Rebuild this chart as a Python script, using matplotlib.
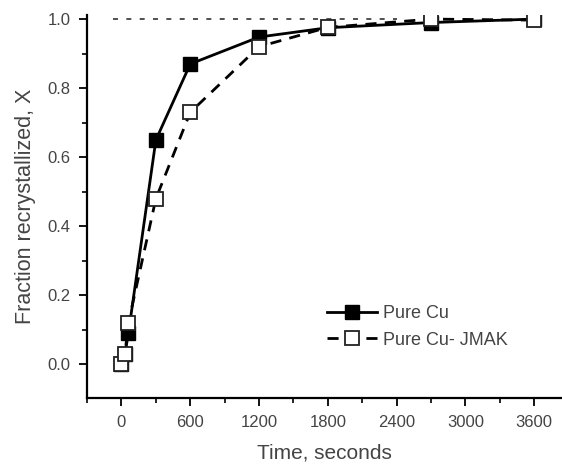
import numpy as np
import matplotlib.pyplot as plt
from matplotlib.ticker import MultipleLocator, FormatStrFormatter

plt.rcParams['font.family'] = ['Liberation Sans', 'DejaVu Sans']

# Pure Cu (measured)
t_cu = [0, 30, 60, 300, 600, 1200, 1800, 2700, 3600]
x_cu = [0.0, 0.03, 0.09, 0.65, 0.87, 0.948, 0.975, 0.99, 1.0]

# Pure Cu - JMAK fit
t_jmak = [0, 30, 60, 300, 600, 1200, 1800, 2700, 3600]
x_jmak = [0.0, 0.03, 0.12, 0.48, 0.73, 0.92, 0.976, 1.0, 0.997]

# reference line at X = 1
ref_t = [-75, 2400]
ref_x = [1.0, 1.0]

fig = plt.figure(figsize=(5.62, 4.67), dpi=100)
ax = fig.add_axes([0.155, 0.148, 0.845, 0.82])

ax.plot(ref_t, ref_x, color='#333333', lw=1.2, ls=(0, (3, 5)))
ax.plot(t_cu, x_cu, color='black', lw=2, marker='s', ms=10,
        mfc='black', mec='black', label='Pure Cu')
ax.plot(t_jmak, x_jmak, color='black', lw=2, ls=(0, (4, 3)), marker='s', ms=9.5,
        mfc='white', mec='#222222', mew=1.3, label='Pure Cu- JMAK')

ax.set_xlim(-300, 3843)
ax.set_ylim(-0.097, 1.012)
ax.xaxis.set_major_locator(MultipleLocator(600))
ax.xaxis.set_minor_locator(MultipleLocator(300))
ax.yaxis.set_major_locator(MultipleLocator(0.2))
ax.yaxis.set_minor_locator(MultipleLocator(0.1))
ax.yaxis.set_major_formatter(FormatStrFormatter('%.1f'))

for s in ['top', 'right']:
    ax.spines[s].set_visible(False)
for s in ['left', 'bottom']:
    ax.spines[s].set_linewidth(1.6)

ax.tick_params(which='major', direction='out', length=6, width=1.3,
               labelsize=12, labelcolor='#444444', pad=6)
ax.tick_params(which='minor', direction='out', length=3.5, width=1.2)

ax.set_xlabel('Time, seconds', fontsize=15, color='#444444', labelpad=10)
ax.set_ylabel('Fraction recrystallized, X', fontsize=15.5, color='#444444', labelpad=8)

leg = ax.legend(loc='upper left', bbox_to_anchor=(0.505, 0.243), frameon=False,
                fontsize=13, handlelength=2.8, handletextpad=0.3, labelspacing=0.55,
                borderpad=0, borderaxespad=0)
for txt in leg.get_texts():
    txt.set_color('#444444')

fig.savefig('out.png', dpi=100)
